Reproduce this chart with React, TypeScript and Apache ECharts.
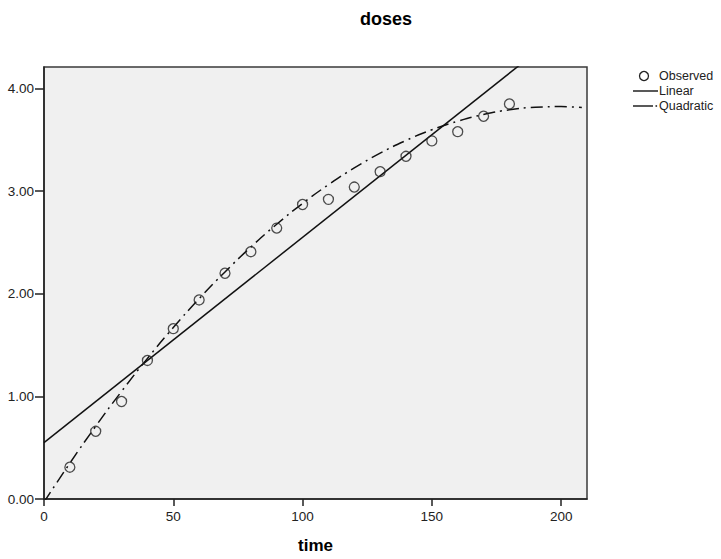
import React, { useEffect, useRef } from "react";
import * as echarts from "echarts";

const titleText = "doses";
const xAxisName = "time";
const xTicks = [0, 50, 100, 150, 200];
const yTicks = [0, 1, 2, 3, 4];
const observedX = [10, 20, 30, 40, 50, 60, 70, 80, 90, 100, 110, 120, 130, 140, 150, 160, 170, 180];
const observedY = [0.31, 0.66, 0.95, 1.35, 1.66, 1.94, 2.2, 2.41, 2.64, 2.87, 2.92, 3.04, 3.19, 3.34, 3.49, 3.58, 3.73, 3.85];
const linearX = [0, 210];
const linearY = [0.55, 4.75];
const quadX = [0, 10, 20, 30, 40, 50, 60, 70, 80, 90, 100, 110, 120, 130, 140, 150, 160, 170, 180, 190, 200, 208];
const quadY = [-0.03, 0.349, 0.709, 1.049, 1.37, 1.671, 1.952, 2.213, 2.455, 2.678, 2.88, 3.063, 3.226, 3.37, 3.494, 3.598, 3.682, 3.747, 3.793, 3.818, 3.824, 3.815];
const legendNames = ["Observed", "Linear", "Quadratic"];

const FONT = "'Liberation Sans', Arial, sans-serif";

export default function App() {
  const ref = useRef<HTMLDivElement>(null);
  useEffect(() => {
    if (!ref.current) return;
    const chart = echarts.init(ref.current, undefined, { renderer: "svg" });
    const zip = (xs: number[], ys: number[]) => xs.map((x, i) => [x, ys[i]]);
    chart.setOption({
      animation: false,
      backgroundColor: "#ffffff",
      title: {
        text: titleText,
        left: 381,
        top: 5,
        textAlign: "center",
        textStyle: { fontFamily: FONT, fontSize: 18, fontWeight: "bold", color: "#000" },
      },
      grid: {
        left: 44,
        right: 134,
        top: 67,
        bottom: 57,
        show: true,
        backgroundColor: "#f0f0f0",
        borderColor: "#3a3a3a",
        borderWidth: 1.5,
      },
      xAxis: {
        type: "value",
        min: 0,
        max: 210,
        interval: 50,
        name: xAxisName,
        nameLocation: "middle",
        nameGap: 38,
        nameTextStyle: { fontFamily: FONT, fontSize: 17, fontWeight: "bold", color: "#000" },
        axisLine: { show: true, lineStyle: { color: "#222", width: 1.5 } },
        axisTick: { show: true, customValues: xTicks, length: 7, lineStyle: { color: "#222", width: 1.5 } },
        axisLabel: { customValues: xTicks, fontFamily: FONT, fontSize: 13.5, color: "#222", margin: 10 },
        splitLine: { show: false },
      },
      yAxis: {
        type: "value",
        min: 0,
        max: 4.21,
        interval: 1,
        axisLine: { show: true, lineStyle: { color: "#222", width: 1.5 } },
        axisTick: { show: true, customValues: yTicks, length: 9, lineStyle: { color: "#222", width: 1.5 } },
        axisLabel: {
          customValues: yTicks,
          fontFamily: FONT,
          fontSize: 13.5,
          color: "#222",
          margin: 10,
          formatter: (v: number) => v.toFixed(2),
        },
        splitLine: { show: false },
      },
      series: [
        {
          name: legendNames[2],
          type: "line",
          data: zip(quadX, quadY),
          showSymbol: false,
          smooth: true,
          clip: true,
          lineStyle: { color: "#111", width: 1.5, type: [12, 5, 2, 5] },
          z: 2,
        },
        {
          name: legendNames[1],
          type: "line",
          data: zip(linearX, linearY),
          showSymbol: false,
          clip: true,
          lineStyle: { color: "#111", width: 1.5 },
          z: 3,
        },
        {
          name: legendNames[0],
          type: "scatter",
          data: zip(observedX, observedY),
          symbol: "circle",
          symbolSize: 10,
          itemStyle: { color: "transparent", borderColor: "#222", borderWidth: 1.3 },
          z: 4,
        },
      ],
      graphic: [
        { type: "circle", shape: { cx: 644, cy: 76, r: 4.5 }, style: { fill: "none", stroke: "#222", lineWidth: 1.3 } },
        { type: "text", x: 659, y: 76, style: { text: legendNames[0], fontFamily: FONT, fontSize: 12.5, fill: "#222", textVerticalAlign: "middle" } },
        { type: "line", shape: { x1: 633, y1: 91, x2: 658, y2: 91 }, style: { stroke: "#222", lineWidth: 1.5 } },
        { type: "text", x: 659, y: 91, style: { text: legendNames[1], fontFamily: FONT, fontSize: 12.5, fill: "#222", textVerticalAlign: "middle" } },
        { type: "line", shape: { x1: 633, y1: 106, x2: 653, y2: 106 }, style: { stroke: "#222", lineWidth: 1.5 } },
        { type: "rect", shape: { x: 655.5, y: 105.2, width: 1.6, height: 1.6 }, style: { fill: "#222" } },
        { type: "text", x: 659, y: 106, style: { text: legendNames[2], fontFamily: FONT, fontSize: 12.5, fill: "#222", textVerticalAlign: "middle" } },
      ],
    });
    return () => chart.dispose();
  }, []);
  return <div ref={ref} style={{ position: "absolute", left: 0, top: 0, width: 721, height: 559 }} />;
}
